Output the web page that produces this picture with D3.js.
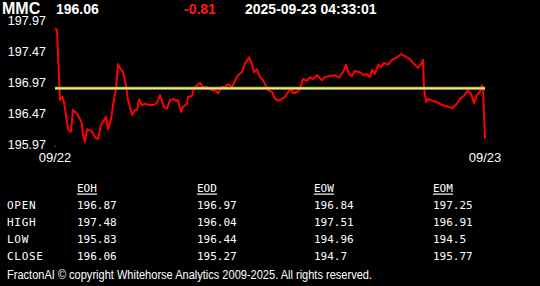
<!DOCTYPE html>
<html><head><meta charset="utf-8">
<script src="https://cdn.jsdelivr.net/npm/d3@7"></script>
<style>html,body{margin:0;padding:0;background:#000;overflow:hidden}</style>
</head><body>
<script>
const symbol = "MMC", lastPrice = "196.06", change = "-0.81", stamp = "2025-09-23 04:33:01";
const refLevel = 196.87;
const yTicks = [197.97, 197.47, 196.97, 196.47, 195.97];
const xLabels = [{h: 0, t: "09/22"}, {h: 24, t: "09/23"}];
const hours = [0,0.11,0.28,0.39,0.5,0.73,0.89,1,1.23,1.4,1.51,1.56,1.67,1.79,2.07,2.23,2.4,2.57,2.68,2.85,2.96,3.13,3.24,3.4,3.52,3.68,3.8,3.96,4.07,4.3,4.47,4.58,4.69,4.86,5.02,5.25,5.47,5.69,5.86,6.08,6.25,6.42,6.59,6.75,6.87,7.03,7.14,7.37,7.42,7.65,7.76,7.93,8.09,8.26,8.48,8.65,8.76,8.93,9.1,9.32,9.49,9.66,9.88,10.05,10.21,10.44,10.6,10.83,11,11.11,11.27,11.44,11.61,11.72,11.89,12.11,12.28,12.45,12.67,12.84,13.01,13.17,13.28,13.51,13.67,13.84,14.07,14.23,14.4,14.62,14.9,15.07,15.35,15.63,15.85,16.07,16.24,16.41,16.57,16.74,17.02,17.25,17.41,17.58,17.69,17.86,18.03,18.2,18.36,18.59,18.81,19.09,19.31,19.53,19.81,20.04,20.26,20.43,20.54,20.6,20.71,20.82,21.04,21.32,21.6,21.88,22.16,22.44,22.6,22.83,23.05,23.22,23.39,23.55,23.72,23.83,23.89,24];
const prices = [197.84,197.81,196.68,196.73,196.65,196.21,196.17,196.52,196.46,196.37,196.29,196.12,196.0,196.21,196.17,196.08,196.05,196.29,196.33,196.41,196.21,196.37,196.6,196.86,197.26,197.17,197.13,196.92,196.69,196.44,196.52,196.52,196.69,196.6,196.62,196.6,196.6,196.63,196.76,196.57,196.54,196.68,196.7,196.67,196.68,196.49,196.57,196.62,196.73,196.75,196.86,196.92,196.96,196.89,196.89,196.86,196.84,196.84,196.79,196.89,196.89,196.94,196.89,197.0,197.08,197.13,197.26,197.37,197.26,197.13,197.18,197.05,197.0,196.94,196.84,196.81,196.7,196.67,196.7,196.73,196.81,196.87,196.79,196.81,196.86,197.02,196.99,197.05,197.02,197.08,197.0,197.05,197.07,197.08,197.04,197.13,197.25,197.1,197.07,197.15,197.13,197.08,197.1,197.05,197.17,197.1,197.25,197.21,197.28,197.25,197.33,197.37,197.42,197.39,197.34,197.26,197.2,197.26,197.33,196.86,196.65,196.7,196.67,196.65,196.6,196.58,196.55,196.62,196.7,196.75,196.84,196.78,196.63,196.76,196.81,196.92,196.86,196.06];
const tableCols = ["EOH", "EOD", "EOW", "EOM"];
const tableRows = ["OPEN", "HIGH", "LOW", "CLOSE"];
const eoh = ["196.87", "197.48", "195.83", "196.06"];
const eod = ["196.97", "196.04", "196.44", "195.27"];
const eow = ["196.84", "197.51", "194.96", "194.7"];
const eom = ["197.25", "196.91", "194.5", "195.77"];
const footer = "FractonAI \u00a9 copyright Whitehorse Analytics 2009-2025. All rights reserved.";

const W = 540, H = 286;
const svg = d3.select("body").append("svg").attr("width", W).attr("height", H)
  .style("background", "#000").style("display", "block");

const x = d3.scaleLinear().domain([0, 24]).range([55, 485]);
const y = d3.scaleLinear().domain([195.97, 197.97]).range([144.1, 20.1]);

// header
const hdr = svg.append("g").attr("font-family", "Arial, 'Liberation Sans', sans-serif").attr("font-weight", "bold");
hdr.append("text").attr("x", 2).attr("y", 14).attr("font-size", 16).attr("fill", "#fff").text(symbol);
hdr.append("text").attr("x", 56).attr("y", 14).attr("font-size", 14).attr("fill", "#fff").text(lastPrice);
hdr.append("text").attr("x", 184).attr("y", 14).attr("font-size", 14).attr("fill", "#ff1a1a").text(change);
hdr.append("text").attr("x", 245).attr("y", 14).attr("font-size", 14).attr("fill", "#fff").text(stamp);

// y labels
const yl = svg.append("g").attr("font-family", "Arial, 'Liberation Sans', sans-serif").attr("font-size", 12.5).attr("fill", "#fff");
yl.selectAll("text").data(yTicks).join("text")
  .attr("x", 46).attr("y", d => y(d) + 4.6).attr("text-anchor", "end").text(d => d.toFixed(2));

// x labels
yl.selectAll(".xl").data(xLabels).join("text").attr("class", "xl")
  .attr("x", d => x(d.h)).attr("y", 162).attr("text-anchor", "middle").attr("font-size", 13).text(d => d.t);
svg.append("rect").attr("x", x(0) - 0.5).attr("y", 145.5).attr("width", 1).attr("height", 1).attr("fill", "#aaa");

// price line
const data = hours.map((h, i) => ({h, v: prices[i]}));
svg.append("path").datum(data)
  .attr("fill", "none").attr("stroke", "#ff0000").attr("stroke-width", 2).attr("stroke-linejoin", "round")
  .attr("d", d3.line().x(d => x(d.h)).y(d => y(d.v)));

// reference line
svg.append("line").attr("x1", x(0)).attr("x2", x(24)).attr("y1", y(refLevel)).attr("y2", y(refLevel))
  .attr("stroke", "#b8b840").attr("stroke-width", 3);
svg.append("line").attr("x1", x(0)).attr("x2", x(24)).attr("y1", y(refLevel)).attr("y2", y(refLevel))
  .attr("stroke", "#f6f6a8").attr("stroke-width", 1);

// table
const tbl = svg.append("g").attr("font-family", "'DejaVu Sans Mono', 'Liberation Mono', monospace").attr("font-size", 11).attr("fill", "#fff");
const colX = [77, 197, 314, 433];
const rowY = [209, 226, 243, 260];
const colVals = [eoh, eod, eow, eom];
tableCols.forEach((c, i) => {
  const t = tbl.append("text").attr("x", colX[i]).attr("y", 192).text(c);
  tbl.append("rect").attr("x", colX[i]).attr("y", 193.5).attr("width", 20).attr("height", 1.2).attr("fill", "#fff");
  colVals[i].forEach((v, j) => tbl.append("text").attr("x", colX[i]).attr("y", rowY[j]).text(v));
});
tableRows.forEach((r, j) => tbl.append("text").attr("x", 7).attr("y", rowY[j]).attr("letter-spacing", 0.7).text(r));

// footer
svg.append("text").attr("x", 7).attr("y", 279).attr("font-family", "Arial, 'Liberation Sans', sans-serif")
  .attr("font-size", 12).attr("fill", "#fff").attr("textLength", 365).attr("lengthAdjust", "spacingAndGlyphs").text(footer);
</script>
</body></html>
